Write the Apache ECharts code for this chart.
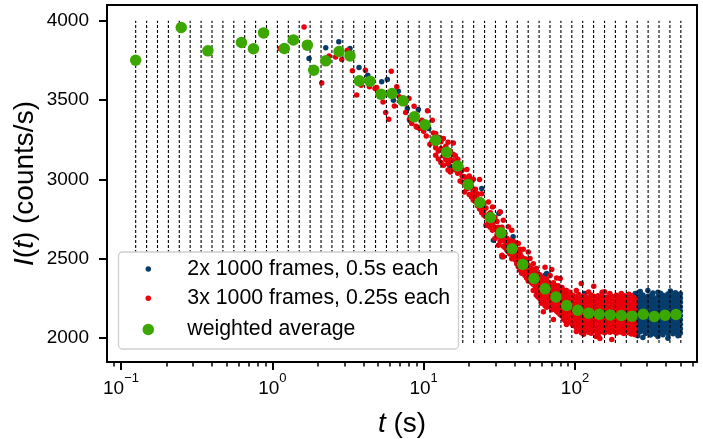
<!DOCTYPE html>
<html><head><meta charset="utf-8">
<script src="https://cdn.jsdelivr.net/npm/echarts@6/dist/echarts.min.js"></script>
<style>html,body{margin:0;padding:0;background:#fff}#c{width:703px;height:439px}</style>
</head><body><div id="c"></div>
<script>
// ---------------- data ----------------
const binEdges = [0.125,0.1476,0.1742,0.2056,0.2427,0.2865,0.3382,0.3993,0.4713,0.5563,0.6567,0.7752,0.9151,1.080,1.275,1.505,1.777,2.098,2.476,2.923,3.451,4.073,4.808,5.676,6.700,7.909,9.336,11.02,13.01,15.36,18.13,21.40,25.26,29.82,35.20,41.56,49.05,57.91,68.36,80.69,95.25,112.4,132.7,156.7,184.9,218.3,257.7,304.2,359.1,423.9,500.4];
const binLineBottom = 1970;
const binLineTop = 4000;

const avgPoints = [[0.125,3752],[0.25,3958],[0.375,3811],[0.625,3864],[0.75,3824],[0.875,3924],[1.20,3826],[1.377,3880],[1.703,3847],[1.877,3689],[2.254,3748],[2.76,3807],[3.26,3779],[3.757,3622],[4.42,3620],[5.23,3538],[6.18,3542],[7.31,3496],[8.68,3395],[10.2,3345],[12.0,3248],[14.2,3172],[16.8,3086],[19.7,2969],[23.5,2855],[27.6,2761],[32.4,2664],[38.4,2564],[45.1,2465],[53.6,2376],[63.4,2311],[74.9,2260],[88.2,2206],[104.3,2176],[123.3,2158],[144.8,2151],[171.2,2147],[202.4,2143],[238.2,2139],[282.9,2151],[334.4,2137],[393.6,2145],[465.3,2150]];

const blueSparse = [[1.748,3763],[2.254,3830],[2.75,3868],[3.26,3826],[3.74,3706],[4.27,3658],[5.28,3616],[5.75,3631],[6.31,3500],[6.80,3557],[7.80,3448],[9.22,3442],[10.8,3322],[12.5,3263],[14.3,3185],[14.55,3101],[14.9,3086],[16.9,3059],[20.8,2911],[21.3,2912],[24.2,2944],[27.4,2702],[28.9,2618],[31.4,2786],[32,2796],[32.9,2513],[39,2639],[40.2,2513],[50.4,2366],[63.4,2397],[64.9,2408],[64.9,2240],[77.6,2176],[95.5,2092],[116,2282],[150,2257],[179,2260]];
const blueColumns = [
[250,[2035,2062,2090,2118,2145,2172,2200,2228,2255,2282]],
[260,[2015,2048,2075,2103,2130,2158,2185,2213,2240,2266]],
[270,[2040,2068,2095,2122,2150,2177,2205,2232,2260,2295]],
[281,[2005,2052,2080,2108,2135,2163,2190,2218,2245,2272]],
[292,[2030,2058,2086,2114,2141,2169,2196,2224,2251]],
[303,[2045,2072,2100,2127,2155,2182,2210,2237,2264,2300]],
[315,[2020,2048,2076,2104,2131,2159,2186,2214,2241,2268]],
[327,[2038,2065,2093,2120,2148,2175,2203,2230,2258,2285]],
[340,[2025,2053,2081,2109,2136,2164,2191,2219,2246]],
[353,[2010,2042,2070,2098,2125,2153,2180,2208,2235,2262,2290]],
[367,[2035,2063,2091,2118,2146,2173,2201,2228,2256,2283]],
[381,[2022,2050,2078,2106,2133,2161,2188,2216,2243,2270]],
[396,[2040,2068,2096,2123,2151,2178,2206,2233,2261]],
[411,[2000,2030,2058,2086,2113,2141,2168,2196,2223,2251,2278]],
[427,[2045,2073,2101,2128,2156,2183,2211,2238,2266,2298]],
[444,[2028,2056,2084,2111,2139,2166,2194,2221,2249,2276]],
[461,[2038,2066,2094,2121,2149,2176,2204,2231,2259,2286]],
[479,[2015,2048,2076,2104,2131,2159,2186,2214,2241,2268]],
[497,[2032,2060,2088,2116,2143,2171,2198,2226,2253,2280]]
];

const redSparse = [[1.124,3826],[1.62,3962],[2.12,3609],[2.37,3779],[2.62,3773],[2.875,3757],[3.13,3815],[3.38,3685],[3.61,3532],[3.86,3595],[4.12,3689],[4.38,3585],[4.77,3574],[4.89,3580],[5.39,3489],[5.61,3423],[5.88,3380],[6.11,3683],[6.40,3464],[6.64,3584],[6.9,3521],[7.53,3479],[7.6,3423],[8.0,3511],[8.05,3378],[8.33,3353],[8.64,3462],[8.92,3336],[9.0,3330],[9.38,3322],[9.72,3374],[10.0,3305],[10.4,3275],[10.6,3433],[11.0,3223],[11.4,3374],[11.6,3294]];
const redColumns = [
[12.0,[3153,3290,3223,3200]],[12.5,[3180,3265,3130]],[13.0,[3107,3238,3195]],[13.5,[3150,3259,3090]],
[14.0,[3125,3210,3170]],[14.5,[3100,3235,3060]],[15.0,[3180,3048,3125]],[15.7,[3118,3160,3070,3230]],
[16.2,[3111,3060,3150]],[16.8,[3040,3100,3128]],[17.4,[3048,2990,3090]],[18.0,[3060,2985,3020]],
[18.6,[3017,2922,2975]],[19.3,[3063,2940,2995]],[20.0,[3023,2960,2905]],[20.7,[2890,2945,3002]],
[21.3,[3002,2915,2870]],[22.0,[2938,2860,2895]],[22.7,[2880,2835,2910]],[23.4,[3000,2870,2815]],
[24.2,[2911,2830,2790]],[25.0,[2775,2850,2805]],[25.8,[2820,2712,2765]],[26.8,[2859,2780,2735]],
[27.6,[2745,2700,2790]],[28.5,[2827,2720,2680]],[29.6,[2628,2760,2700]],[30.5,[2690,2735,2650]],
[31.2,[2586,2700,2640]],[32.0,[2796,2665,2610]],[32.9,[2523,2640,2700]],[33.6,[2744,2513,2620,2580]],
[34.5,[2610,2570,2660]],[35.5,[2555,2630,2590]],[36.3,[2702,2545,2600]],[37.1,[2618,2575,2530]],
[38.2,[2681,2540,2590,2500]],[39.2,[2560,2610,2520]],[40.2,[2495,2555,2580]],[41.2,[2540,2470,2600]],
[42.2,[2597,2510,2450]],[43.3,[2534,2480,2430,2560]],[44.4,[2513,2455,2410]],[45.5,[2490,2420,2560]],
[46.7,[2450,2395,2500]],[47.9,[2430,2480,2380]],[49.1,[2544,2405,2460,2360]],[50.4,[2502,2420,2370]],
[51.7,[2440,2350,2395]],[53.0,[2410,2340,2470,2300]],[54.4,[2380,2330,2420]],
[55.5,[2300,2360,2410,2440,2270]],[57.0,[2320,2385,2260,2350]],[58.5,[2340,2290,2400,2250,2310]],
[60.0,[2330,2280,2365,2220,2300]],[61.8,[2166,2320,2260,2380,2290,2230]],[63.4,[2300,2447,2250,2345,2205,2275]],
[65.0,[2290,2330,2240,2370,2195,2310]],[66.8,[2260,2315,2225,2285,2350]],[68.5,[2280,2240,2330,2200,2300,2395]],
[70.2,[2433,2255,2295,2180,2330,2220]],[72.0,[2118,2260,2310,2235,2285,2350]],[73.7,[2334,2210,2275,2245,2190,2300]],
[75.6,[2250,2290,2170,2320,2225,2380]],[77.5,[2270,2200,2245,2160,2300,2330]],[79.8,[2376,2230,2260,2185,2290,2150]],
[82.0,[2210,2250,2285,2140,2320,2180]],[84.0,[2235,2195,2270,2120,2300,2165]],[86.0,[2200,2250,2150,2285,2230,2110]],
[87.9,[2086,2215,2260,2175,2300,2140]],[90.0,[2190,2240,2130,2275,2205,2160]],[92.3,[2225,2170,2255,2100,2195,2290]],
[94.6,[2180,2230,2145,2260,2110,2205]],[97.0,[2200,2150,2240,2080,2175,2270]],[99.4,[2165,2215,2125,2250,2190,2095]],
[102,[2042,2068,2091,2118,2139,2163,2184,2212,2233,2262,2301]],
[106,[2056,2079,2104,2126,2151,2170,2199,2221,2249,2276]],
[110,[2034,2061,2083,2112,2133,2160,2178,2207,2229,2256,2345]],
[114,[2025,2051,2074,2097,2123,2144,2170,2191,2219,2241,2266]],
[118,[2046,2067,2094,2115,2142,2161,2189,2210,2238,2259]],
[123,[2037,2063,2085,2111,2131,2158,2179,2206,2226,2253,2291]],
[128,[2031,2054,2081,2103,2128,2149,2176,2198,2225,2247,2273]],
[133,[2049,2071,2097,2119,2145,2166,2193,2214,2241,2264,2328]],
[138,[2010,2043,2065,2091,2112,2138,2160,2186,2207,2234,2256]],
[142,[2019,2053,2075,2101,2123,2149,2171,2197,2219,2245,2267]],
[146,[1998,2039,2064,2086,2112,2134,2159,2181,2207,2229,2255]],
[151,[2051,2073,2099,2121,2147,2169,2195,2217,2243,2265,2289]],
[157,[2034,2059,2081,2107,2129,2155,2177,2203,2225,2251,2292]],
[163,[2046,2068,2094,2116,2142,2164,2190,2212,2238,2260]],
[170,[2037,2063,2085,2111,2133,2159,2181,2207,2229,2255,2282]],
[175,[1992,2049,2071,2097,2119,2145,2167,2193,2215,2241,2263]],
[181,[2041,2063,2089,2111,2137,2159,2185,2207,2233,2257]],
[188,[2032,2058,2080,2106,2128,2154,2176,2202,2224,2250,2271]],
[195,[2046,2068,2094,2116,2142,2164,2190,2212,2238,2260]],
[202,[2037,2063,2085,2111,2133,2159,2181,2207,2229,2255,2281]],
[210,[2029,2055,2077,2103,2125,2151,2173,2199,2221,2247,2269]],
[218,[2043,2065,2091,2113,2139,2161,2187,2209,2235,2257]],
[227,[2035,2061,2083,2109,2131,2157,2179,2205,2227,2253,2277]],
[236,[2027,2053,2075,2101,2123,2149,2171,2197,2219,2245,2267]],
[245,[2041,2063,2089,2111,2137,2159,2185,2207,2233,2255]],
[250,[2021,2056,2094,2136,2174,2216,2249]]
];

const xMajorTicks = [0.1, 1, 10, 100];
const xMinorTicks = [0.09,0.2,0.3,0.4,0.5,0.6,0.7,0.8,0.9,2,3,4,5,6,7,8,9,20,30,40,50,60,70,80,90,200,300,400,500,600];
const yTicks = [2000, 2500, 3000, 3500, 4000];

const seriesNames = ['2x 1000 frames, 0.5s each', '3x 1000 frames, 0.25s each', 'weighted average'];

// ---------------- build ----------------
const flatten = (sparse, cols) => sparse.concat(...cols.map(([t, vs]) => vs.map(v => [t, v])));
const blueData = flatten(blueSparse, blueColumns);
const redData = flatten(redSparse, redColumns);

const FONT = "'Liberation Sans', Arial, Helvetica, sans-serif";
const BLUE = '#073d6c', RED = '#e8000b', GREEN = '#3ca700';
const X_MIN = 0.0808, X_MAX = 640, Y_MIN = 1850, Y_MAX = 4100;

const chart = echarts.init(document.getElementById('c'), null, {renderer: 'canvas'});

// legend: marker centred at x=148.3, text starting at x=187.3
function legendFor(name, centerY, size) {
  const left = 148.3 - size / 2;
  const textStart = left + size + 5;
  return {
    data: [{name: name, icon: 'circle'}],
    left: left, top: centerY - 12, orient: 'horizontal', padding: 0,
    itemWidth: size, itemHeight: size, selectedMode: false, z: 20,
    formatter: function (n) { return '{sp|}{t|' + n + '}'; },
    textStyle: {
      fontFamily: FONT, fontSize: 21.3, color: '#000', lineHeight: 24,
      rich: {
        sp: {width: 187.3 - textStart, height: 24},
        t: {fontFamily: FONT, fontSize: 21.3, color: '#000', lineHeight: 24}
      }
    }
  };
}

const plainLine = {show: true, lineStyle: {color: '#000', width: 2}};

chart.setOption({
  animation: false,
  backgroundColor: '#fff',
  grid: {left: 107, right: 6, top: 5, bottom: 77, show: false, containLabel: false, outerBoundsMode: 'none'},
  legend: [
    legendFor(seriesNames[0], 269, 5.5),
    legendFor(seriesNames[1], 298.3, 5.5),
    legendFor(seriesNames[2], 329.5, 11.5)
  ],
  graphic: [{
    type: 'rect', z: 15, silent: true,
    shape: {x: 118.5, y: 252, width: 340, height: 97, r: 4},
    style: {fill: '#fff', stroke: '#cfcfcf', lineWidth: 1.3}
  }],
  xAxis: [{
    type: 'log', logBase: 10, min: X_MIN, max: X_MAX, position: 'bottom',
    axisLine: plainLine, splitLine: {show: false},
    axisTick: {show: true, customValues: xMajorTicks, length: 8, lineStyle: {color: '#000', width: 2}},
    axisLabel: {
      customValues: xMajorTicks, margin: 9.5, color: '#000',
      formatter: function (v) {
        const e = Math.round(Math.log10(v));
        return '{b|10}{s|' + (e < 0 ? '\u2212' + (-e) : String(e)) + '}';
      },
      rich: {
        b: {fontFamily: FONT, fontSize: 19, lineHeight: 34, color: '#000'},
        s: {fontFamily: FONT, fontSize: 13, lineHeight: 13, verticalAlign: 'top', color: '#000'}
      }
    },
    name: '{i|t} (s)', nameLocation: 'middle', nameGap: 47, nameMoveOverlap: false,
    nameTextStyle: {fontFamily: FONT, fontSize: 28, color: '#000', lineHeight: 30,
      rich: {i: {fontFamily: FONT, fontSize: 28, fontStyle: 'italic', color: '#000', lineHeight: 30}}}
  }, {
    type: 'log', logBase: 10, min: X_MIN, max: X_MAX, position: 'bottom',
    axisLine: {show: false}, splitLine: {show: false}, axisLabel: {show: false},
    axisTick: {show: true, customValues: xMinorTicks, length: 4.5, lineStyle: {color: '#000', width: 1.5}}
  }, {
    type: 'log', logBase: 10, min: X_MIN, max: X_MAX, position: 'top',
    axisLine: plainLine, splitLine: {show: false}, axisLabel: {show: false}, axisTick: {show: false}
  }],
  yAxis: [{
    type: 'value', min: Y_MIN, max: Y_MAX, position: 'left',
    axisLine: plainLine, splitLine: {show: false},
    axisTick: {show: true, customValues: yTicks, length: 8, lineStyle: {color: '#000', width: 2}},
    axisLabel: {customValues: yTicks, margin: 18, color: '#000', fontFamily: FONT, fontSize: 19,
      formatter: function (v) { return String(v); }},
    name: '{i|I}({i|t}) (counts/s)', nameLocation: 'middle', nameGap: 67, nameRotate: 90, nameMoveOverlap: false,
    nameTextStyle: {fontFamily: FONT, fontSize: 28, color: '#000', lineHeight: 30,
      rich: {i: {fontFamily: FONT, fontSize: 28, fontStyle: 'italic', color: '#000', lineHeight: 30}}}
  }, {
    type: 'value', min: Y_MIN, max: Y_MAX, position: 'right',
    axisLine: plainLine, splitLine: {show: false}, axisLabel: {show: false}, axisTick: {show: false}
  }],
  series: [{
    name: seriesNames[0], type: 'scatter', data: blueData, symbol: 'circle', symbolSize: 5.5,
    itemStyle: {color: BLUE, opacity: 1}, z: 1, silent: true
  }, {
    name: seriesNames[1], type: 'scatter', data: redData, symbol: 'circle', symbolSize: 5.5,
    itemStyle: {color: RED, opacity: 1}, z: 2, silent: true
  }, {
    type: 'custom', z: 3, silent: true, clip: false,
    data: binEdges.map(t => [t, binLineTop]),
    encode: {x: 0, y: 1},
    renderItem: function (params, api) {
      const t = api.value(0);
      const a = api.coord([t, binLineBottom]);
      const b = api.coord([t, binLineTop]);
      return {type: 'line', shape: {x1: a[0], y1: a[1], x2: b[0], y2: b[1]},
        style: {stroke: '#000', lineWidth: 1.1, lineDash: [3, 2], fill: null}};
    }
  }, {
    name: seriesNames[2], type: 'scatter', data: avgPoints, symbol: 'circle', symbolSize: 11.5,
    itemStyle: {color: GREEN, opacity: 1}, z: 4, silent: true
  }]
});
</script>
</body></html>
